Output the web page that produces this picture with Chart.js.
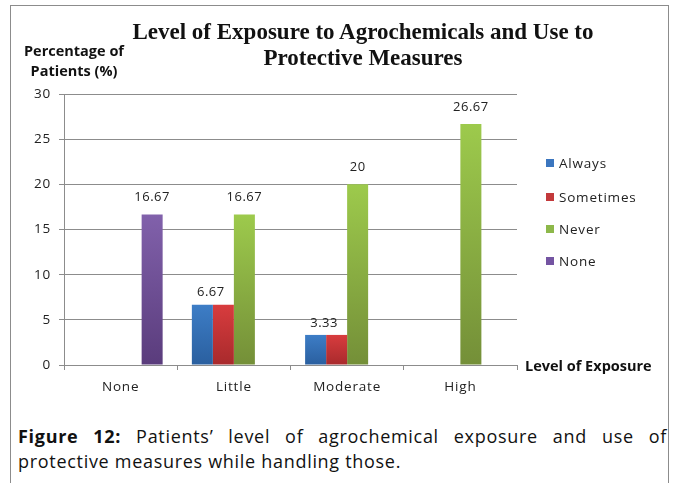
<!DOCTYPE html>
<html>
<head>
<meta charset="utf-8">
<script src="https://cdn.jsdelivr.net/npm/chart.js@4.4.1/dist/chart.umd.min.js"></script>
<style>
  html, body { margin: 0; padding: 0; background: #fff; }
  body { width: 682px; height: 483px; position: relative; overflow: hidden; font-family: "Open Sans", sans-serif; color: #222; }
  #frame { position: absolute; left: 10px; top: 5px; width: 657px; height: 520px; border: 1px solid #8c8c8c; }
  #c { position: absolute; left: 0; top: 0; }
  .abs { position: absolute; white-space: nowrap; }
  #title { left: 63px; width: 600px; top: 19px; text-align: center; font: bold 23px "Liberation Serif", serif; line-height: 26px; color: #111; }
  #ytitle { left: 14px; width: 120px; top: 41px; text-align: center; font: bold 14.5px "Open Sans", sans-serif; line-height: 20px; color: #111; }
  #xtitle { left: 525px; top: 356px; font: bold 14.5px "Open Sans", sans-serif; line-height: 20px; color: #111; }
  #legend .item { position: absolute; left: 546px; font: 13.5px "Open Sans", sans-serif; letter-spacing: 0.8px; line-height: 18px; color: #222; }
  #legend .sw { display: inline-block; width: 8px; height: 8px; margin-right: 5px; vertical-align: 1px; }
  .cap { position: absolute; left: 18px; width: 649px; font: 18px "Open Sans", sans-serif; letter-spacing: 0.7px; line-height: 25px; color: #111; white-space: nowrap; }
  #cap1 { top: 424px; text-align: justify; text-align-last: justify; }
  #cap2 { top: 449px; text-align: left; }
</style>
</head>
<body>
<div id="frame"></div>
<canvas id="c" width="682" height="410"></canvas>
<div id="title" class="abs">Level of Exposure to Agrochemicals and Use to<br>Protective Measures</div>
<div id="ytitle" class="abs">Percentage of<br>Patients (%)</div>
<div id="xtitle" class="abs">Level of Exposure</div>
<div id="legend"></div>
<div id="cap1" class="cap"><b>Figure 12:</b> Patients’ level of agrochemical exposure and use of</div>
<div id="cap2" class="cap">protective measures while handling those.</div>
<script>
// ---- Data ----
const categories = ["None", "Little", "Moderate", "High"];
const seriesNames = ["Always", "Sometimes", "Never", "None"];
const always    = [0, 6.67, 3.33, 0];
const sometimes = [0, 6.67, 3.33, 0];
const never     = [0, 16.67, 20, 26.67];
const noneUse   = [16.67, 0, 0, 0];
const yTicks    = [0, 5, 10, 15, 20, 25, 30];

// ---- Styles ----
const gradTop    = ["#3d7dc6", "#d83c3e", "#9dca4c", "#8161ab"];
const gradBottom = ["#2a5f9f", "#a82a2c", "#748f38", "#5a3c7c"];
const legendCols = ["#3b76bf", "#c3393b", "#8db84a", "#7454a2"];
const labelLift  = [12, 12, 17, 17];

function barGradient(i) {
  return function(ctx) {
    const chart = ctx.chart;
    const ys = chart.scales && chart.scales.y;
    if (!ys || ctx.raw === undefined || !chart.chartArea) return gradTop[i];
    const top = ys.getPixelForValue(ctx.raw);
    const bot = ys.getPixelForValue(0);
    if (!isFinite(top) || Math.abs(bot - top) < 1) return gradTop[i];
    const g = chart.ctx.createLinearGradient(0, top, 0, bot);
    g.addColorStop(0, gradTop[i]);
    g.addColorStop(1, gradBottom[i]);
    return g;
  };
}

const seriesData = [always, sometimes, never, noneUse];
const datasets = seriesData.map((d, i) => ({
  label: seriesNames[i],
  data: d,
  backgroundColor: barGradient(i),
  borderWidth: 0,
  categoryPercentage: 0.742,
  barPercentage: 1.0
}));

const spacingPlugin = {
  id: 'letterSpacing',
  beforeLayout(chart) { chart.ctx.letterSpacing = '0.8px'; },
  beforeDraw(chart) { chart.ctx.letterSpacing = '0.8px'; }
};

const labelPlugin = {
  id: 'valueLabels',
  afterDatasetsDraw(chart) {
    const ctx = chart.ctx;
    ctx.save();
    ctx.letterSpacing = '0.5px';
    ctx.font = '13px "Open Sans", sans-serif';
    ctx.fillStyle = '#222';
    ctx.textAlign = 'center';
    ctx.textBaseline = 'middle';
    chart.data.datasets.forEach((ds, di) => {
      const meta = chart.getDatasetMeta(di);
      ds.data.forEach((v, j) => {
        if (!v) return;
        if (di === 1 && chart.data.datasets[0].data[j] === v) return;
        const bar = meta.data[j];
        let x = bar.x;
        if (di === 0 && chart.data.datasets[1].data[j] === v) {
          x = (bar.x + chart.getDatasetMeta(1).data[j].x) / 2 - 2;
        }
        ctx.fillText(String(v), x, bar.y - labelLift[di]);
      });
    });
    ctx.restore();
  }
};

new Chart(document.getElementById('c'), {
  type: 'bar',
  data: { labels: categories, datasets: datasets },
  options: {
    responsive: false,
    animation: false,
    layout: { padding: { left: 0, right: 165, top: 94, bottom: 0 } },
    plugins: { legend: { display: false }, tooltip: { enabled: false }, title: { display: false } },
    scales: {
      x: {
        grid: { offset: true, drawOnChartArea: false, drawTicks: true, tickLength: 5, color: '#8c8c8c' },
        border: { display: true, color: '#8c8c8c' },
        ticks: { color: '#222', font: { family: '"Open Sans"', size: 13.5 }, padding: 9 },
        afterFit: s => { s.height = 45; }
      },
      y: {
        min: 0, max: 30,
        afterBuildTicks: s => { s.ticks = yTicks.map(v => ({ value: v })); },
        grid: { color: '#8c8c8c', tickLength: 5, drawTicks: true },
        border: { display: true, color: '#8c8c8c' },
        ticks: { color: '#222', font: { family: '"Open Sans"', size: 13.5 }, padding: 8 },
        afterFit: s => { s.width = 64; }
      }
    }
  },
  plugins: [spacingPlugin, labelPlugin]
});

// HTML legend built from series
const legendTops = [154, 188, 220, 252];
const lg = document.getElementById('legend');
seriesNames.forEach((n, i) => {
  const d = document.createElement('div');
  d.className = 'item';
  d.style.top = legendTops[i] + 'px';
  d.innerHTML = '<span class="sw" style="background:' + legendCols[i] + '"></span>' + n;
  lg.appendChild(d);
});
</script>
</body>
</html>
